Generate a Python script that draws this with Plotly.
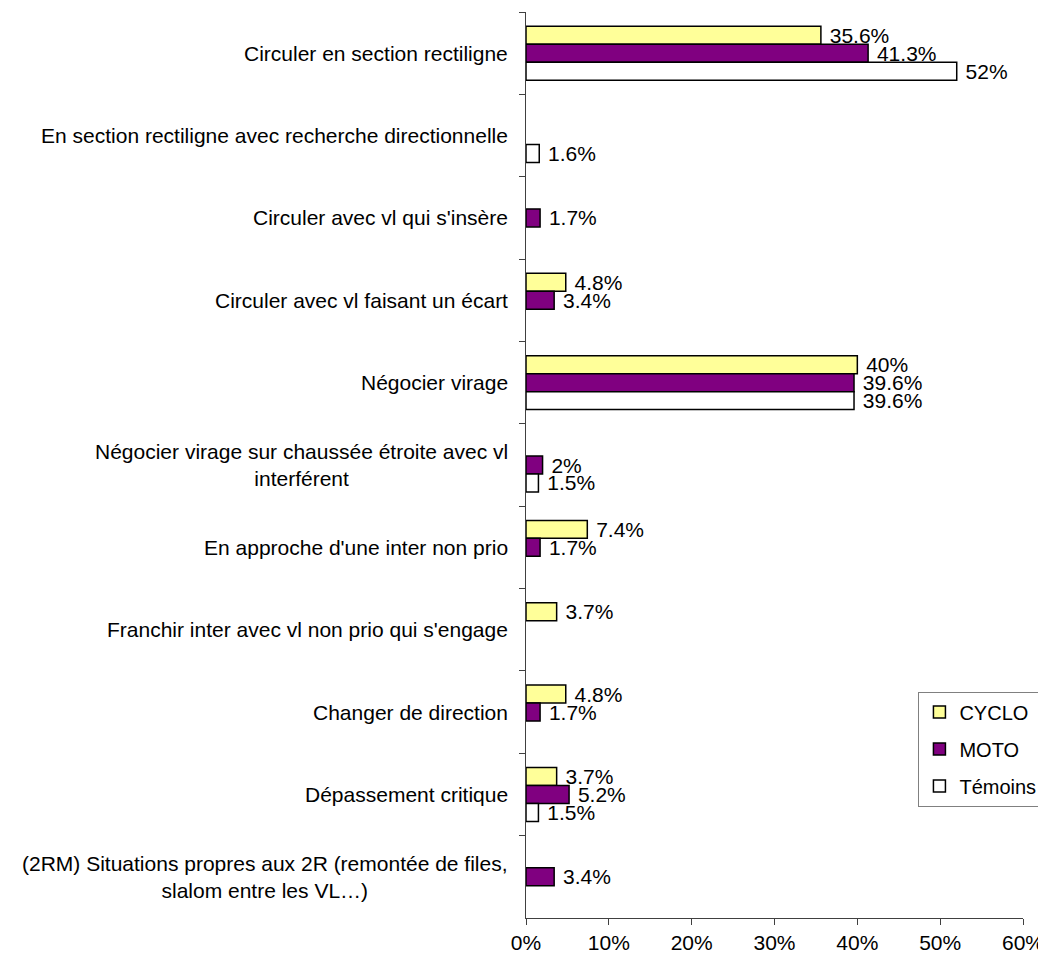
import plotly.graph_objects as go

categories = [
    "Circuler en section rectiligne",
    "En section rectiligne avec recherche directionnelle",
    "Circuler avec vl qui s'insère",
    "Circuler avec vl faisant un écart",
    "Négocier virage",
    "Négocier virage sur chaussée étroite avec vl<br>interférent",
    "En approche d'une inter non prio",
    "Franchir inter avec vl non prio qui s'engage",
    "Changer de direction",
    "Dépassement critique",
    "(2RM) Situations propres aux 2R (remontée de files,<br>slalom entre les VL…)",
]
cyclo = [35.6, None, None, 4.8, 40, None, 7.4, 3.7, 4.8, 3.7, None]
moto = [41.3, None, 1.7, 3.4, 39.6, 2, 1.7, None, 1.7, 5.2, 3.4]
temoins = [52, 1.6, None, None, 39.6, 1.5, None, None, None, 1.5, None]
x_ticks = [0, 10, 20, 30, 40, 50, 60]

FONT = "Liberation Sans, Arial, sans-serif"


def pct_labels(vals):
    return ["" if v is None else "\u00a0" + f"{v:g}%" for v in vals]


fig = go.Figure()
for name, vals, color in [("CYCLO", cyclo, "#FFFF99"),
                          ("MOTO", moto, "#800080"),
                          ("Témoins", temoins, "#FFFFFF")]:
    fig.add_trace(go.Bar(
        y=categories, x=vals, name=name, orientation="h",
        legendgroup=name,
        marker=dict(color=color, line=dict(color="black", width=1.5)),
        text=pct_labels(vals), textposition="outside",
        textfont=dict(size=21, color="black"),
        constraintext="none", cliponaxis=False,
    ))

# category labels, centred lines, right edge near the axis
for cat in categories:
    fig.add_annotation(
        x=0, xref="paper", y=cat, yref="y", text=cat,
        xanchor="right", xshift=-16, align="center", showarrow=False,
        font=dict(size=21, color="black", family=FONT),
    )

# page body has an 8px margin, so the figure is 8px smaller than the window
fig.update_layout(
    width=1038, height=950,
    margin=dict(l=518, r=5, t=4, b=40, autoexpand=False),
    barmode="group", bargap=0.345, bargroupgap=0,
    plot_bgcolor="white", paper_bgcolor="white",
    font=dict(family=FONT, size=21, color="black"),
    xaxis=dict(
        domain=[0, 497 / 515],
        range=[0, 60], tickvals=x_ticks,
        ticktext=[f"{v}%" for v in x_ticks],
        showgrid=False, zeroline=False, automargin=False,
        showline=True, linecolor="#404040", linewidth=1,
        ticks="outside", ticklen=6, tickcolor="#404040",
    ),
    yaxis=dict(
        autorange="reversed", showticklabels=False,
        showgrid=False, zeroline=False, automargin=False,
        showline=True, linecolor="#404040", linewidth=1,
        ticks="outside", ticklen=6, tickcolor="#404040",
        tickson="boundaries",
    ),
    legend=dict(
        x=0.762, y=0.25, xanchor="left", yanchor="top",
        bordercolor="#808080", borderwidth=1, bgcolor="white",
        traceorder="grouped", tracegroupgap=8,
        font=dict(size=20),
    ),
)

fig.write_html("out.html")
